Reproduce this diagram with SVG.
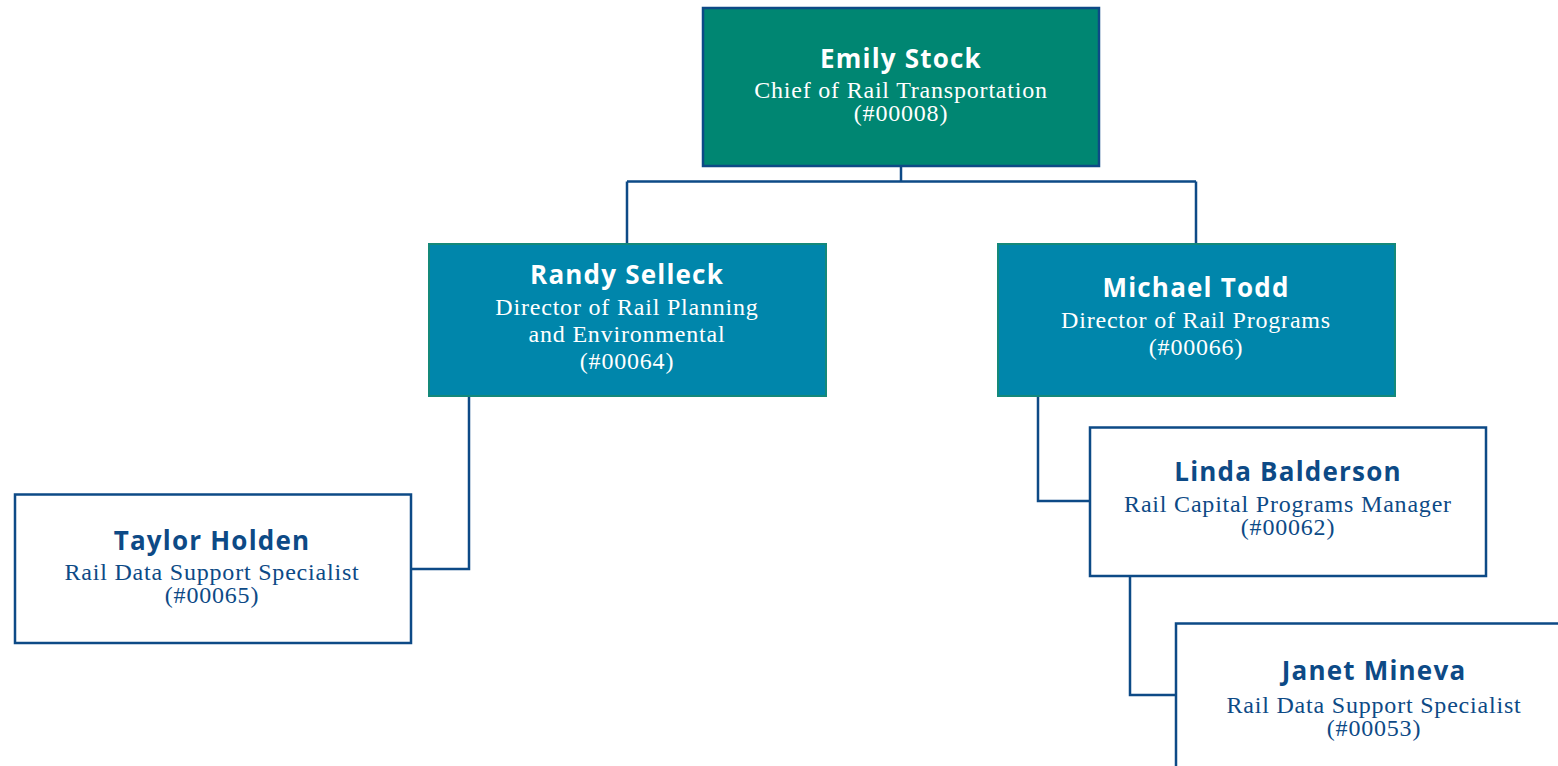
<svg xmlns="http://www.w3.org/2000/svg" width="1558" height="766" viewBox="0 0 1558 766">
<style>
.name{font-family:"Open Sans","Liberation Sans",sans-serif;font-weight:700;font-size:26px;letter-spacing:1.2px;text-anchor:middle}
.t{font-family:"Liberation Serif","DejaVu Serif",serif;font-size:24px;letter-spacing:0.8px;text-anchor:middle}
.dark .name,.dark .t{fill:#ffffff}
.light .name,.light .t{fill:#0d4a86}
.conn{fill:none;stroke:#0d4a86;stroke-width:2.5}
</style>
<rect width="1558" height="766" fill="#ffffff"/>
<g id="connectors" class="conn">
<path d="M901 167V181.5M627 181.5H1196M627 181.5V244M1196 181.5V244"/>
<path d="M469 396V569H411"/>
<path d="M1038 396V501H1090"/>
<path d="M1130 576V695H1176"/>
</g>
<g id="emily" class="dark">
<rect x="703" y="8" width="396" height="158" fill="#008672" stroke="#0d4a86" stroke-width="2.5"/>
<text class="name" x="901" y="68">Emily Stock</text>
<text class="t" x="901" y="98">Chief of Rail Transportation</text>
<text class="t" x="901" y="121">(#00008)</text>
</g>
<g id="randy" class="dark">
<rect x="429" y="244" width="397" height="152" fill="#0086ab" stroke="#14897a" stroke-width="2"/>
<text class="name" x="627" y="284">Randy Selleck</text>
<text class="t" x="627" y="315">Director of Rail Planning</text>
<text class="t" x="627" y="342">and Environmental</text>
<text class="t" x="627" y="369">(#00064)</text>
</g>
<g id="michael" class="dark">
<rect x="998" y="244" width="397" height="152" fill="#0086ab" stroke="#14897a" stroke-width="2"/>
<text class="name" x="1196" y="297">Michael Todd</text>
<text class="t" x="1196" y="328">Director of Rail Programs</text>
<text class="t" x="1196" y="355">(#00066)</text>
</g>
<g id="taylor" class="light">
<rect x="15" y="494.5" width="396" height="148.5" fill="#ffffff" stroke="#0d4a86" stroke-width="2.5"/>
<text class="name" x="212" y="550">Taylor Holden</text>
<text class="t" x="212" y="580">Rail Data Support Specialist</text>
<text class="t" x="212" y="603">(#00065)</text>
</g>
<g id="linda" class="light">
<rect x="1090" y="427.5" width="396" height="148.5" fill="#ffffff" stroke="#0d4a86" stroke-width="2.5"/>
<text class="name" x="1288" y="481">Linda Balderson</text>
<text class="t" x="1288" y="512">Rail Capital Programs Manager</text>
<text class="t" x="1288" y="535">(#00062)</text>
</g>
<g id="janet" class="light">
<rect x="1176" y="623.5" width="396" height="150" fill="#ffffff" stroke="#0d4a86" stroke-width="2.5"/>
<text class="name" x="1374" y="680">Janet Mineva</text>
<text class="t" x="1374" y="713">Rail Data Support Specialist</text>
<text class="t" x="1374" y="736">(#00053)</text>
</g>
</svg>
